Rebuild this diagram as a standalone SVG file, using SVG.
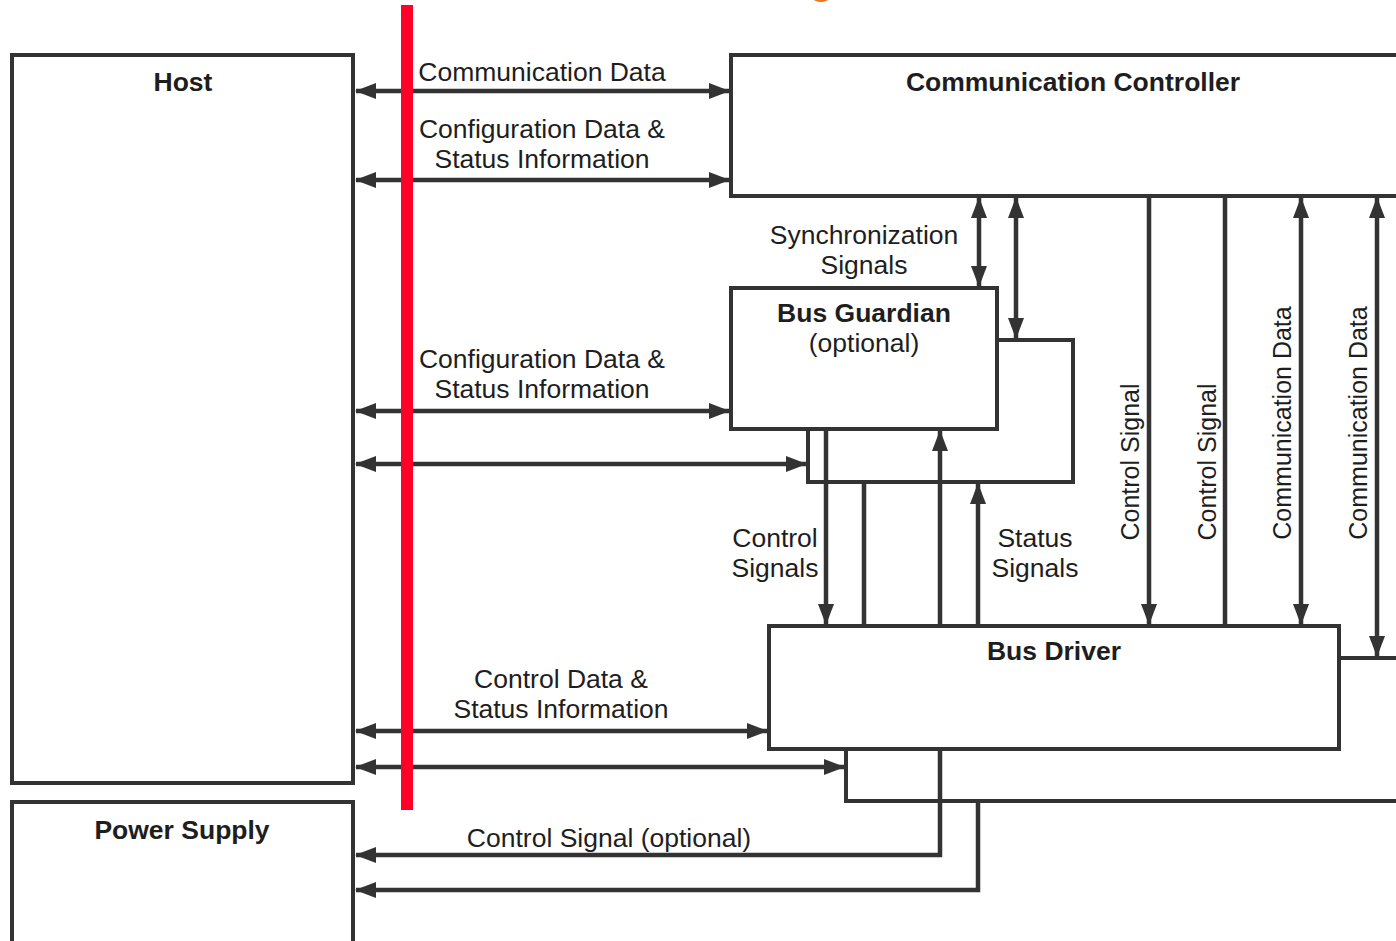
<svg xmlns="http://www.w3.org/2000/svg" width="1396" height="941" viewBox="0 0 1396 941">
<style>
.box{fill:#fff;stroke:#333;stroke-width:4}
.ln{fill:none;stroke:#333;stroke-width:4.5}
.t{font-family:"Liberation Sans",Arial,sans-serif;font-size:26.5px;fill:#1e1e1e;text-anchor:middle}
.b{font-weight:bold}
.v{font-size:25px}
</style>
<defs>
<marker id="ah" viewBox="0 0 21 16" refX="20" refY="8" markerWidth="21" markerHeight="16" markerUnits="userSpaceOnUse" orient="auto-start-reverse">
<path d="M0,0 L21,8 L0,16 z" fill="#333"/>
</marker>
</defs>
<rect width="1396" height="941" fill="#fff"/>
<ellipse cx="821" cy="-2" rx="8" ry="4" fill="#e8771e"/>

<g id="host">
<rect class="box" x="12" y="55" width="341" height="728"/>
<text class="t b" x="183" y="91">Host</text>
</g>
<g id="power-supply">
<rect class="box" x="12" y="802" width="341" height="160"/>
<text class="t b" x="182" y="839">Power Supply</text>
</g>
<g id="communication-controller">
<rect class="box" x="731" y="55" width="720" height="141"/>
<text class="t b" x="1073" y="91">Communication Controller</text>
</g>
<g id="bus-guardian-b">
<rect class="box" x="808" y="340" width="265" height="142"/>
</g>
<g id="bus-guardian">
<rect class="box" x="731" y="288" width="266" height="141"/>
<text class="t b" x="864" y="322">Bus Guardian</text>
<text class="t" x="864" y="352">(optional)</text>
</g>
<g id="bus-driver-b">
<rect class="box" x="846" y="658" width="600" height="143"/>
</g>
<g id="bus-driver">
<rect class="box" x="769" y="626" width="570" height="123"/>
<text class="t b" x="1054" y="660">Bus Driver</text>
</g>

<g id="connectors">
<line class="ln" x1="356" y1="91" x2="729" y2="91" marker-start="url(#ah)" marker-end="url(#ah)"/>
<line class="ln" x1="356" y1="180" x2="729" y2="180" marker-start="url(#ah)" marker-end="url(#ah)"/>
<line class="ln" x1="356" y1="411" x2="729" y2="411" marker-start="url(#ah)" marker-end="url(#ah)"/>
<line class="ln" x1="356" y1="464" x2="806" y2="464" marker-start="url(#ah)" marker-end="url(#ah)"/>
<line class="ln" x1="356" y1="731" x2="767" y2="731" marker-start="url(#ah)" marker-end="url(#ah)"/>
<line class="ln" x1="356" y1="767" x2="844" y2="767" marker-start="url(#ah)" marker-end="url(#ah)"/>
<polyline class="ln" points="940,747 940,855 356,855" marker-end="url(#ah)"/>
<polyline class="ln" points="978,801 978,890 356,890" marker-end="url(#ah)"/>
<line class="ln" x1="979" y1="198" x2="979" y2="286" marker-start="url(#ah)" marker-end="url(#ah)"/>
<line class="ln" x1="1016" y1="198" x2="1016" y2="338" marker-start="url(#ah)" marker-end="url(#ah)"/>
<line class="ln" x1="826" y1="427" x2="826" y2="624" marker-end="url(#ah)"/>
<line class="ln" x1="864" y1="482" x2="864" y2="626"/>
<line class="ln" x1="940" y1="626" x2="940" y2="431" marker-end="url(#ah)"/>
<line class="ln" x1="978" y1="626" x2="978" y2="484" marker-end="url(#ah)"/>
<line class="ln" x1="1149" y1="196" x2="1149" y2="624" marker-end="url(#ah)"/>
<line class="ln" x1="1225" y1="196" x2="1225" y2="626"/>
<line class="ln" x1="1301" y1="198" x2="1301" y2="624" marker-start="url(#ah)" marker-end="url(#ah)"/>
<line class="ln" x1="1377" y1="198" x2="1377" y2="656" marker-start="url(#ah)" marker-end="url(#ah)"/>
</g>

<g id="labels">
<text class="t" x="542" y="81">Communication Data</text>
<text class="t" x="542" y="138">Configuration Data &amp;</text>
<text class="t" x="542" y="168">Status Information</text>
<text class="t" x="542" y="368">Configuration Data &amp;</text>
<text class="t" x="542" y="398">Status Information</text>
<text class="t" x="864" y="244">Synchronization</text>
<text class="t" x="864" y="274">Signals</text>
<text class="t" x="775" y="547">Control</text>
<text class="t" x="775" y="577">Signals</text>
<text class="t" x="1035" y="547">Status</text>
<text class="t" x="1035" y="577">Signals</text>
<text class="t" x="561" y="688">Control Data &amp;</text>
<text class="t" x="561" y="718">Status Information</text>
<text class="t" x="609" y="847">Control Signal (optional)</text>
<text class="t v" transform="translate(1139,462) rotate(-90)">Control Signal</text>
<text class="t v" transform="translate(1216,462) rotate(-90)">Control Signal</text>
<text class="t v" transform="translate(1291,423) rotate(-90)">Communication Data</text>
<text class="t v" transform="translate(1367,423) rotate(-90)">Communication Data</text>
</g>

<rect x="401" y="5" width="12" height="805" fill="#ff0028"/>
</svg>
